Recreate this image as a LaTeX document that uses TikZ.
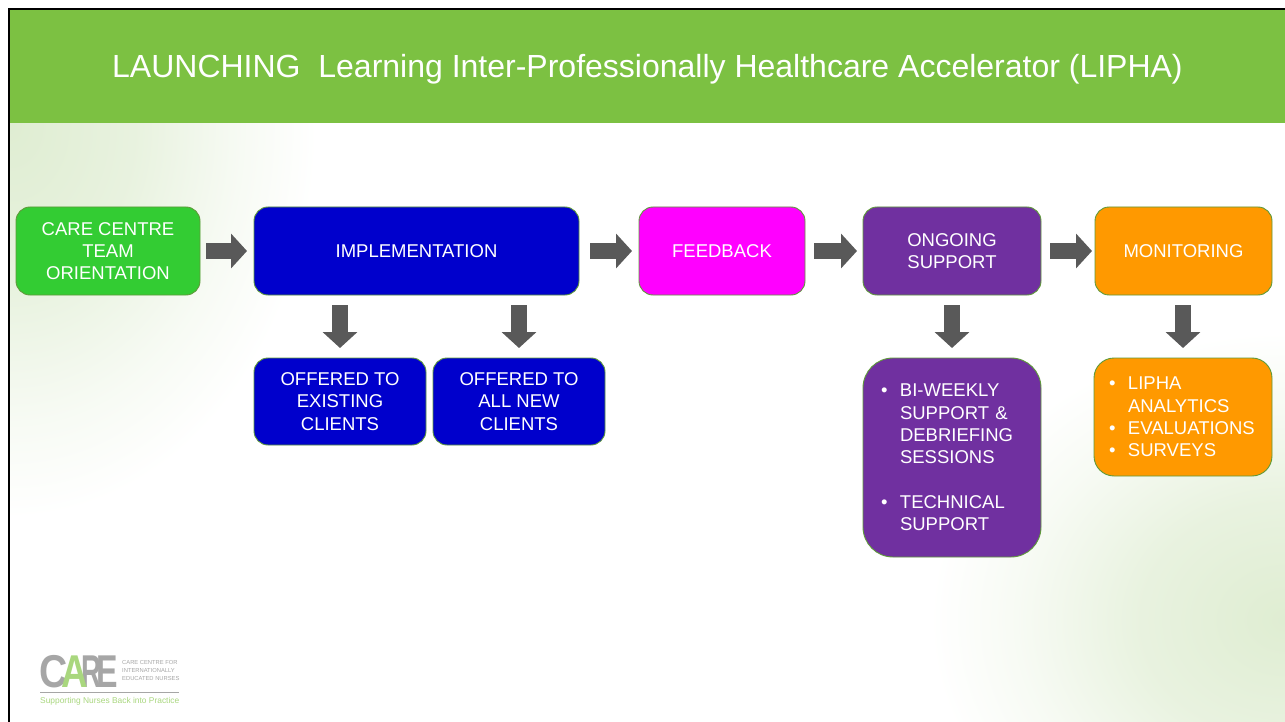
\documentclass[tikz,border=0pt]{standalone}
\usepackage{fontspec}
\setmainfont{Liberation Sans}
\usetikzlibrary{positioning, arrows.meta}
\definecolor{headgreen}{HTML}{7CC142}
\definecolor{washgreen}{HTML}{DFEDD2}
\definecolor{edgegreen}{HTML}{5F9A3A}
\definecolor{teamgreen}{HTML}{33CC33}
\definecolor{implblue}{HTML}{0000CC}
\definecolor{feedpink}{HTML}{FF00FF}
\definecolor{supportpurple}{HTML}{7030A0}
\definecolor{monitororange}{HTML}{FF9900}
\definecolor{arrowgray}{HTML}{595959}
\definecolor{logogray}{HTML}{A6A6A6}
\definecolor{logogreen}{HTML}{A9D77E}
\pgfdeclareradialshading{wash}{\pgfpoint{0bp}{0bp}}{color(0bp)=(washgreen); color(10bp)=(washgreen!70!white); color(18bp)=(washgreen!25!white); color(24bp)=(white); color(50bp)=(white)}
\newcommand{\blt}{\makebox[19pt][l]{\textbullet}}
\newcommand{\hng}{\hspace*{19pt}}
\tikzset{%
  flowbox/.style={
    draw=edgegreen,
    line width=0.9pt,
    rounded corners=14pt,
    minimum height=88pt,
    inner sep=0pt,
    outer sep=0pt,
    align=center,
    text=white,
    font=\fontsize{18.5}{22.3}\selectfont
  },
  listbox/.style={
    flowbox,
    align=left,
    anchor=north
  },
  flow/.style={
    draw=arrowgray,
    line width=16pt,
    -{Triangle[length=16pt,width=34pt]},
    shorten <=6pt,
    shorten >=7pt
  },
  flowdown/.style={
    flow,
    shorten <=10pt,
    shorten >=10pt
  },
  logotext/.style={
    inner sep=0pt,
    text=logogray,
    font=\fontsize{5.8}{6}\selectfont,
    anchor=west
  },
  logoletter/.style={
    inner sep=0pt,
    text=logogray,
    font=\fontsize{46}{46}\bfseries\selectfont
  }
}
\begin{document}
\begin{tikzpicture}[x=1pt, y=1pt]
  \useasboundingbox (0,0) rectangle (1285,-722);
  \fill[white] (0,0) rectangle (1285,-722);

  \begin{scope}
    \clip (10,-123) rectangle (1285,-722);
    \shade[shading=wash] (10,-125) ellipse (320 and 410);
    \shade[shading=wash] (1285,-620) ellipse (370 and 300);
  \end{scope}

  \node[fill=headgreen, minimum width=1275pt, minimum height=113pt, inner sep=0pt, outer sep=0pt] (header) at (647.5,-66.5) {};
  \node[inner sep=0pt, text=white, font=\fontsize{32}{40}\selectfont] (title) [below = 3pt of header.center, anchor=center] {LAUNCHING\ \ Learning Inter-Professionally Healthcare Accelerator (LIPHA)};
  \draw[black, line width=2.5pt] (9,-722) -- (9,-9) -- (1285,-9);

  \node[flowbox, fill=teamgreen, minimum width=184pt] (orient) at (108,-251) {\raisebox{-1pt}{CARE CENTRE}\\\raisebox{-1pt}{TEAM}\\\raisebox{-1pt}{ORIENTATION}};
  \node[flowbox, fill=implblue, minimum width=325pt] (impl) [right = 54pt of orient] {IMPLEMENTATION};
  \node[flowbox, fill=feedpink, minimum width=166pt] (feedback) [right = 60pt of impl] {FEEDBACK};
  \node[flowbox, fill=supportpurple, minimum width=178pt] (ongoing) [right = 58pt of feedback] {ONGOING\\SUPPORT};
  \node[flowbox, fill=monitororange, minimum width=177pt] (monitor) [right = 54pt of ongoing] {MONITORING};

  \node[flowbox, fill=implblue, minimum width=172pt, minimum height=87pt] (existing) at (340,-401.5) {OFFERED TO\\EXISTING\\CLIENTS};
  \node[flowbox, fill=implblue, minimum width=172pt, minimum height=87pt] (newclients) [right = 7pt of existing] {OFFERED TO\\ALL NEW\\CLIENTS};

  \node[listbox, fill=supportpurple, rounded corners=30pt, minimum height=199pt, text width=142pt, inner xsep=18pt] (sessions) at (952,-358) {\blt BI-WEEKLY\\\hng SUPPORT \&\\\hng DEBRIEFING\\\hng SESSIONS\\[22.3pt]\blt TECHNICAL\\\hng SUPPORT};
  \node[listbox, fill=monitororange, rounded corners=20pt, minimum height=118pt, text width=148pt, inner xsep=15pt] (analytics) at (1183,-358) {\blt LIPHA\\\hng ANALYTICS\\\blt EVALUATIONS\\\blt SURVEYS};

  \draw[flow] (orient) -- (impl);
  \draw[flow, shorten <=11pt] (impl) -- (feedback);
  \draw[flow, shorten <=9pt, shorten >=6pt] (feedback) -- (ongoing);
  \draw[flow, shorten <=9pt, shorten >=3pt] (ongoing) -- (monitor);
  \draw[flowdown] (existing |- impl.south) -- (existing);
  \draw[flowdown] (newclients |- impl.south) -- (newclients);
  \draw[flowdown] (ongoing) -- (sessions);
  \draw[flowdown] (analytics |- monitor.south) -- (analytics);

  \node[logoletter] (logoc) at (54,-672) {\scalebox{.85}[1]{C}};
  \node[logoletter] (logor) at (91,-672) {\scalebox{.6}[1]{R}};
  \node[logoletter] (logoe) at (107.5,-672) {\scalebox{.7}[1]{E}};
  \node[logoletter, text=logogreen] (logoa) at (75,-672) {\scalebox{.8}[1]{A}};
  \node[logotext] (logoone) at (122,-662.5) {CARE CENTRE FOR};
  \node[logotext] (logotwo) at (122,-670) {INTERNATIONALLY};
  \node[logotext] (logothree) at (122,-678) {EDUCATED NURSES};
  \draw[logogray, line width=1pt] (40,-692) -- (179,-692);
  \node[logotext, text=logogreen, font=\fontsize{8.4}{8.4}\selectfont] (tagline) at (40,-701) {Supporting Nurses Back into Practice};
\end{tikzpicture}
\end{document}
